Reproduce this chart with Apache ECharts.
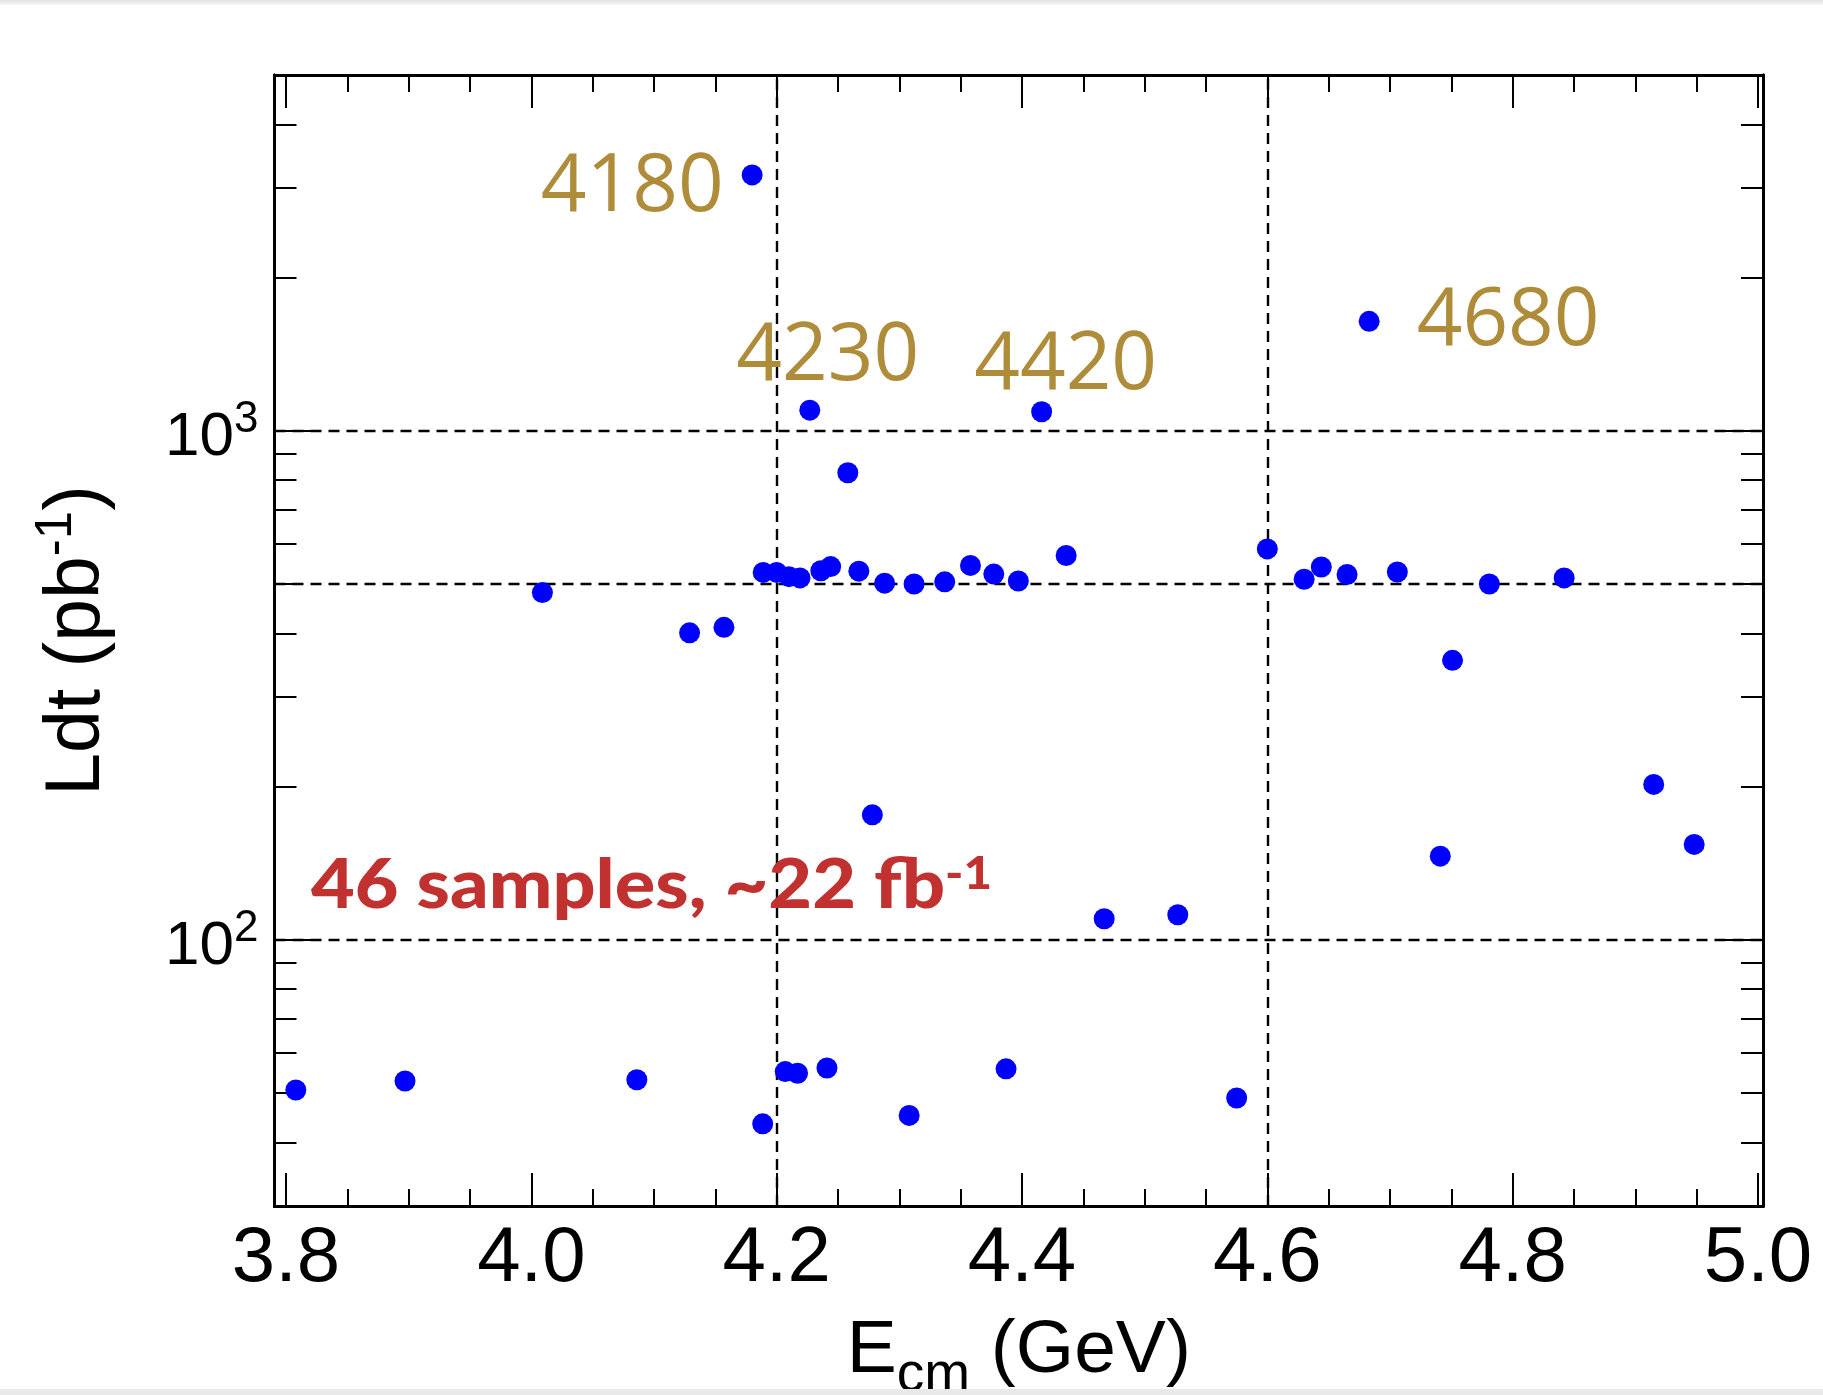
<!DOCTYPE html>
<html>
<head>
<meta charset="utf-8">
<script src="https://cdn.jsdelivr.net/npm/echarts@6/dist/echarts.min.js"></script>
<style>
html,body{margin:0;padding:0;background:#fff;}
#chart{width:1823px;height:1395px;}
</style>
</head>
<body>
<div id="chart"></div>
<script>
// ---- data ----
const energies = [3.808, 3.897, 4.009, 4.086, 4.129, 4.157, 4.180, 4.1886, 4.189, 4.200,
  4.207, 4.210, 4.217, 4.219, 4.227, 4.236, 4.241, 4.244, 4.258, 4.267,
  4.278, 4.288, 4.308, 4.312, 4.337, 4.358, 4.377, 4.387, 4.397, 4.416,
  4.436, 4.467, 4.527, 4.575, 4.600, 4.630, 4.644, 4.665, 4.683, 4.706,
  4.741, 4.751, 4.781, 4.842, 4.915, 4.948];
const lumis = [50.7, 52.8, 481, 53.1, 401, 411, 3182, 43.5, 527, 527,
  55.1, 517, 54.7, 514, 1098, 531, 56.0, 541, 827, 530,
  176, 502, 45.2, 500, 505, 544, 523, 55.8, 507, 1090,
  569, 110, 112, 48.9, 586, 511, 540, 522, 1641, 528,
  146, 354, 500, 514, 202, 154];
const tagEnergies = [4.180, 4.227, 4.416, 4.683];
const tagTexts = ['4180', '4230', '4420', '4680'];
const xMajorTicks = [3.8, 4.0, 4.2, 4.4, 4.6, 4.8, 5.0];
const xMinorTicks = [3.85, 3.9, 3.95, 4.05, 4.1, 4.15, 4.25, 4.3, 4.35, 4.45, 4.5, 4.55,
  4.65, 4.7, 4.75, 4.85, 4.9, 4.95];
const yMajorTicks = [100, 1000];
const yMinorTicks = [30, 40, 50, 60, 70, 80, 90, 200, 300, 400, 500, 600, 700, 800, 900,
  2000, 3000, 4000, 5000];
const xGridLines = [4.2, 4.6];
const yGridLines = [100, 500, 1000];
const xTitle = ['E', 'cm', ' (GeV)'];
const yTitle = ['Ldt (pb', '-1', ')'];
const noteText = ['46 samples, ~22 fb', '-1'];

// ---- layout / style ----
const XMIN = 3.7906, XMAX = 5.0041, YMIN = 30, YMAX = 5000;
const FONT = '"Liberation Sans", Arial, Helvetica, sans-serif';
const GOLD = '#AE8C3A';
const RED = '#C0312F';

const tagPlacement = {
  '4180': { position: 'left', distance: 18, offset: [0, 13] },
  '4230': { position: 'top', distance: 0, offset: [18, -2] },
  '4420': { position: 'top', distance: 0, offset: [24, 5] },
  '4680': { position: 'right', distance: 37, offset: [0, 1] }
};

function tagFor(e) {
  for (let i = 0; i < tagEnergies.length; i++) {
    if (Math.abs(tagEnergies[i] - e) < 0.0005) return tagTexts[i];
  }
  return null;
}

const points = energies.map((e, i) => {
  const item = { value: [e, lumis[i]] };
  const t = tagFor(e);
  if (t) {
    const p = tagPlacement[t];
    item.label = {
      show: true, formatter: t, position: p.position, distance: p.distance, offset: p.offset,
      color: GOLD, fontSize: 80, fontFamily: '"Open Sans", Lato, sans-serif', fontWeight: 400
    };
  }
  return item;
});

function xAx(pos, ticks, len, main) {
  const a = {
    type: 'value', gridIndex: 0, position: pos, min: XMIN, max: XMAX,
    axisLine: { show: true, onZero: false, lineStyle: { color: '#000', width: 3 } },
    axisTick: { show: true, inside: true, length: len, customValues: ticks,
      lineStyle: { color: '#000', width: 2 } },
    axisLabel: { show: false },
    splitLine: { show: false }, minorTick: { show: false }, minorSplitLine: { show: false }
  };
  if (main) {
    a.axisLabel = {
      show: true, customValues: xMajorTicks, margin: 14,
      formatter: v => v.toFixed(1), color: '#000', fontSize: 78, fontFamily: FONT
    };
    a.name = '{a|' + xTitle[0] + '}{b|' + xTitle[1] + '}{a|' + xTitle[2] + '}';
    a.nameLocation = 'middle';
    a.nameGap = 108;
    a.nameTextStyle = {
      color: '#000', fontFamily: FONT,
      rich: {
        a: { fontSize: 75, lineHeight: 75, verticalAlign: 'top', fontFamily: FONT, color: '#000' },
        b: { fontSize: 55, lineHeight: 89, verticalAlign: 'bottom', fontFamily: FONT, color: '#000' }
      }
    };
  }
  return a;
}

function yAx(pos, ticks, len, main) {
  const a = {
    type: 'log', logBase: 10, gridIndex: 0, position: pos, min: YMIN, max: YMAX,
    axisLine: { show: true, onZero: false, lineStyle: { color: '#000', width: 3 } },
    axisTick: { show: true, inside: true, length: len, customValues: ticks,
      lineStyle: { color: '#000', width: 2 } },
    axisLabel: { show: false },
    splitLine: { show: false }, minorTick: { show: false }, minorSplitLine: { show: false }
  };
  if (main) {
    a.axisLabel = {
      show: true, customValues: yMajorTicks, margin: 16, padding: [14, 0, 0, 0],
      formatter: v => '{b|10}{s|' + Math.round(Math.log10(v)) + '}',
      rich: {
        b: { fontSize: 62, lineHeight: 80, fontFamily: FONT, color: '#000' },
        s: { fontSize: 44, lineHeight: 32, verticalAlign: 'top', fontFamily: FONT, color: '#000' }
      }
    };
    a.name = '{a|' + yTitle[0] + '}{s|' + yTitle[1] + '}{a|' + yTitle[2] + '}';
    a.nameLocation = 'middle';
    a.nameRotate = 90;
    a.nameGap = 150;
    a.nameTextStyle = {
      color: '#000', fontFamily: FONT,
      rich: {
        a: { fontSize: 77, lineHeight: 93, fontFamily: FONT, color: '#000' },
        s: { fontSize: 51, lineHeight: 35, verticalAlign: 'top', fontFamily: FONT, color: '#000' }
      }
    };
  }
  return a;
}

const chart = echarts.init(document.getElementById('chart'), null, { renderer: 'canvas' });
chart.setOption({
  animation: false,
  backgroundColor: '#fff',
  grid: { left: 274.5, right: 60, top: 75, bottom: 189, containLabel: false, outerBoundsMode: 'none' },
  xAxis: [
    xAx('bottom', xMajorTicks, 33, true),
    xAx('bottom', xMinorTicks, 17, false),
    xAx('top', xMajorTicks, 33, false),
    xAx('top', xMinorTicks, 17, false)
  ],
  yAxis: [
    yAx('left', yMajorTicks, 40, true),
    yAx('left', yMinorTicks, 22, false),
    yAx('right', yMajorTicks, 40, false),
    yAx('right', yMinorTicks, 22, false)
  ],
  graphic: [
    { type: 'rect', left: 0, top: 0, z: 100, silent: true,
      shape: { width: 1823, height: 5 },
      style: { fill: new echarts.graphic.LinearGradient(0, 0, 0, 1, [
        { offset: 0, color: '#e2e2e2' }, { offset: 1, color: '#f8f8f8' }]) } },
    { type: 'rect', left: 0, top: 1389, z: 100, silent: true,
      shape: { width: 1823, height: 6 },
      style: { fill: '#e9e9e9' } },
    { type: 'text', z: 50, silent: true,
      x: 311, y: 886, scaleX: 1.095, scaleY: 1,
      style: {
        x: 0, y: 0, verticalAlign: 'middle', align: 'left',
        text: '{a|' + noteText[0] + '}{s|' + noteText[1] + '}',
        rich: {
          a: { fontSize: 69, lineHeight: 69, fontWeight: 900, fontFamily: 'Lato, sans-serif', fill: RED },
          s: { fontSize: 45, lineHeight: 53, verticalAlign: 'top', fontWeight: 900, fontFamily: 'Lato, sans-serif', fill: RED }
        }
      } }
  ],
  series: [{
    type: 'scatter', xAxisIndex: 0, yAxisIndex: 0, z: 3,
    symbol: 'circle', symbolSize: 21,
    itemStyle: { color: '#0000ff', opacity: 1 },
    data: points,
    markLine: {
      z: 1, silent: true, symbol: ['none', 'none'], animation: false,
      label: { show: false },
      lineStyle: { type: [11, 7], color: '#000', width: 2.4 },
      emphasis: { disabled: true },
      data: xGridLines.map(v => ({ xAxis: v })).concat(yGridLines.map(v => ({ yAxis: v })))
    }
  }]
});
</script>
</body>
</html>
